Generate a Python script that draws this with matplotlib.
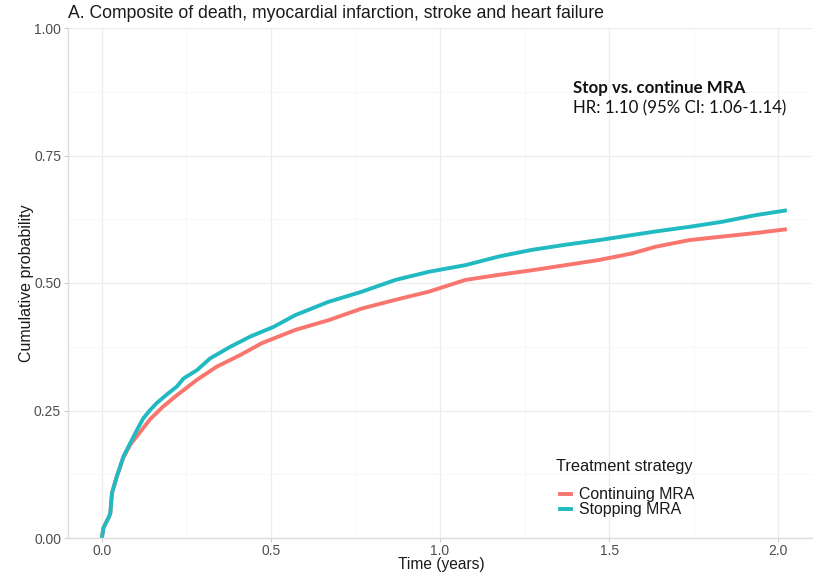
import matplotlib
matplotlib.use("Agg")
import matplotlib.pyplot as plt

t_stop = [0, 0.005, 0.02, 0.025, 0.03, 0.044, 0.064, 0.084, 0.104, 0.123, 0.143, 0.163,
          0.197, 0.222, 0.242, 0.281, 0.32, 0.38, 0.439, 0.508, 0.572, 0.67, 0.769, 0.868,
          0.967, 1.075, 1.174, 1.272, 1.371, 1.469, 1.568, 1.637, 1.736, 1.834, 1.933, 2.02]
p_stop = [0, 0.02, 0.04, 0.048, 0.088, 0.12, 0.16, 0.186, 0.212, 0.235, 0.251, 0.265,
          0.284, 0.297, 0.313, 0.329, 0.352, 0.375, 0.395, 0.414, 0.437, 0.463, 0.483, 0.506,
          0.522, 0.535, 0.552, 0.565, 0.575, 0.584, 0.594, 0.601, 0.61, 0.62, 0.633, 0.642]

t_cont = [0, 0.005, 0.02, 0.025, 0.03, 0.044, 0.064, 0.084, 0.104, 0.143, 0.18, 0.222,
          0.281, 0.34, 0.41, 0.473, 0.572, 0.67, 0.769, 0.868, 0.967, 1.075, 1.174, 1.272,
          1.371, 1.469, 1.568, 1.637, 1.736, 1.834, 1.933, 2.02]
p_cont = [0, 0.02, 0.04, 0.048, 0.088, 0.12, 0.158, 0.183, 0.2, 0.233, 0.257, 0.28,
          0.31, 0.336, 0.359, 0.382, 0.408, 0.427, 0.45, 0.467, 0.483, 0.506, 0.516, 0.525,
          0.535, 0.545, 0.558, 0.571, 0.584, 0.591, 0.598, 0.605]

x_ticks = [0.0, 0.5, 1.0, 1.5, 2.0]
y_ticks = [0.0, 0.25, 0.5, 0.75, 1.0]

plt.rcParams['font.family'] = ['Liberation Sans', 'DejaVu Sans']

W, H = 815, 573
fig = plt.figure(figsize=(W / 100, H / 100), dpi=100)
ax = fig.add_axes([68 / W, 1 - 538 / H, (812 - 68) / W, (538 - 28) / H])

red = '#F8766D'
teal = '#22BAC2'
ax.plot(t_cont, p_cont, color=red, lw=2.8, label='Continuing MRA')
ax.plot(t_stop, p_stop, color=teal, lw=2.8, label='Stopping MRA')

ax.set_xlim(-0.1, 2.1)
ax.set_ylim(0, 1)
ax.set_xticks(x_ticks)
ax.set_xticklabels(['0.0', '0.5', '1.0', '1.5', '2.0'])
ax.set_yticks(y_ticks)
ax.set_yticklabels(['0.00', '0.25', '0.50', '0.75', '1.00'])
ax.set_xticks([0.25, 0.75, 1.25, 1.75], minor=True)
ax.set_yticks([0.125, 0.375, 0.625, 0.875], minor=True)
ax.grid(True, which='major', color='#EDEDED', lw=0.9)
ax.grid(True, which='minor', color='#F6F6F6', lw=0.6)
ax.set_axisbelow(True)
ax.tick_params(which='major', length=3, color='#CCCCCC', labelsize=10, labelcolor='#4D4D4D', pad=2)
ax.tick_params(axis='x', which='major', pad=1)
ax.tick_params(which='minor', length=0)
for side in ['top', 'right']:
    ax.spines[side].set_visible(False)
for side in ['left', 'bottom']:
    ax.spines[side].set_color('#DDDDDD')
    ax.spines[side].set_linewidth(1.0)

ax.set_xlabel('Time (years)', fontsize=11.2, color='#1A1A1A', va='center')
ax.xaxis.set_label_coords((441 - 68) / (812 - 68), -(565 - 538) / 510)
ax.set_ylabel('Cumulative probability', fontsize=11.5, color='#1A1A1A', va='center')
ax.yaxis.set_label_coords(-(68 - 27) / (812 - 68), 0.5)
fig.text(68 / W, 1 - 13 / H, 'A. Composite of death, myocardial infarction, stroke and heart failure',
         fontsize=12.7, color='#1A1A1A', ha='left', va='center')

ax.text(1.394, 0.882, 'Stop vs. continue MRA', fontsize=12.2, fontweight='bold',
        family=['Lato', 'DejaVu Sans'], ha='left', va='center', color='#111111')
ax.text(1.394, 0.843, 'HR: 1.10 (95% CI: 1.06-1.14)', fontsize=12.2,
        family=['Lato', 'DejaVu Sans'], ha='left', va='center', color='#111111')

ax.text((556 - 101.8) / 338.2, (538 - 467) / 510, 'Treatment strategy', fontsize=11.8,
        color='#1A1A1A', ha='left', va='center')
leg = ax.legend(loc='upper left', bbox_to_anchor=((549 - 68) / (812 - 68), (538 - 476) / 510),
                frameon=False, fontsize=11.4, handlelength=0.7, handletextpad=0.5,
                labelspacing=0.0, borderpad=0.2)
for txt in leg.get_texts():
    txt.set_color('#1A1A1A')

fig.savefig('out.png', dpi=100)
